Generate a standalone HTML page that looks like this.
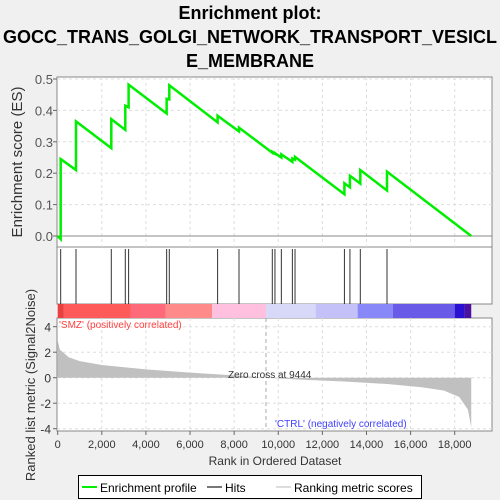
<!DOCTYPE html>
<html><head><meta charset="utf-8"><style>body{margin:0;background:#f0f0f0}svg{display:block}text{font-family:"Liberation Sans",sans-serif}</style></head>
<body>
<svg id="c" width="500" height="500" xmlns="http://www.w3.org/2000/svg">
<rect width="500" height="500" fill="#f0f0f0"/>
<g font-weight="bold" font-size="18" text-anchor="middle" fill="#000">
<text x="250" y="19">Enrichment plot:</text>
<text x="250" y="43">GOCC_TRANS_GOLGI_NETWORK_TRANSPORT_VESICL</text>
<text x="250" y="67">E_MEMBRANE</text>
</g>
<g id="g"></g>
</svg>
<script>
const hitRanks=[135,830,2430,3065,3215,4940,5060,7250,8220,9730,9850,10140,10640,10760,13000,13250,13720,14930];
const esBefore=[-0.01,0.21,0.28,0.338,0.41,0.39,0.435,0.362,0.333,0.265,0.262,0.25,0.236,0.243,0.133,0.155,0.167,0.145];
const esAfter=[0.245,0.365,0.372,0.415,0.482,0.437,0.48,0.383,0.345,0.268,0.264,0.26,0.247,0.252,0.168,0.192,0.21,0.205];
const totalN=18750;
const metricRanks=[0,100,500,1000,2000,4000,6000,8000,9444,11000,13000,15000,16500,17500,18200,18600,18750];
const metricVals=[2.9,2.2,1.6,1.3,1.0,0.65,0.4,0.18,0,-0.15,-0.3,-0.5,-0.75,-1.0,-1.5,-2.5,-3.9];
const xTicks=[0,2000,4000,6000,8000,10000,12000,14000,16000,18000];
const esTicks=[0,0.1,0.2,0.3,0.4,0.5];
const mTicks=[-4,-2,0,2,4];
const zeroCross=9444;
const barStops=[0,280,3300,4900,7000,9450,11700,13600,15200,18000,18450,18750];
const barCols=['#e84040','#ff5a5a','#ff6a7a','#ff8a8a','#ffc0e0','#d8d8f8','#c4c0f8','#8888f8','#6a5ae8','#2a10d0','#4a10a0'];

const L=57,R=492;
const X=r=>57.7+r*(397/18000);
const YE=v=>236-v*314;
const YM=v=>377.7-v*12.75;
const g=document.getElementById('g');
const NS='http://www.w3.org/2000/svg';
function mk(t,a,p){const e=document.createElementNS(NS,t);for(const k in a)e.setAttribute(k,a[k]);(p||g).appendChild(e);return e;}
let e;
e=mk('rect',{x:L,y:77,width:R-L,height:170,fill:'#fff',stroke:'#888'});


e=mk('rect',{x:L,y:247,width:R-L,height:57,fill:'#fff',stroke:'#888'});


e=mk('rect',{x:L,y:318,width:R-L,height:113,fill:'#fff',stroke:'#888'});


xTicks.forEach(t=>{
 if(t>0){mk('line',{x1:X(t),x2:X(t),y1:77,y2:247,stroke:'#ddd','stroke-dasharray':'3,3'});
 mk('line',{x1:X(t),x2:X(t),y1:318,y2:431,stroke:'#ddd','stroke-dasharray':'3,3'});}
 mk('line',{x1:X(t),x2:X(t),y1:431,y2:435,stroke:'#666'});
 e=mk('text',{x:X(t),y:448,'font-size':11,'text-anchor':'middle',fill:'#333'});e.textContent=t.toLocaleString('en-US');
 
 
});
esTicks.forEach(t=>{
 mk('line',{x1:L,x2:R,y1:YE(t),y2:YE(t),stroke:t===0?'#888':'#ddd','stroke-dasharray':t===0?'':'3,3'});
 mk('line',{x1:L-4,x2:L,y1:YE(t),y2:YE(t),stroke:'#666'});
 e=mk('text',{x:L-4,y:YE(t)+5,'font-size':13,'text-anchor':'end',fill:'#555'});e.textContent=t.toFixed(1);
 
 
});
mTicks.forEach(t=>{
 mk('line',{x1:L,x2:R,y1:YM(t),y2:YM(t),stroke:'#ddd','stroke-dasharray':'3,3'});
 mk('line',{x1:L-4,x2:L,y1:YM(t),y2:YM(t),stroke:'#666'});
 e=mk('text',{x:L-6,y:YM(t)+5,'font-size':12,'text-anchor':'end',fill:'#333'});e.textContent=t;
 
 
});
for(let i=0;i<barCols.length;i++){
 e=mk('rect',{x:X(barStops[i]),y:304,width:X(barStops[i+1])-X(barStops[i]),height:14,fill:barCols[i]});
 
 
}
let d='M'+X(0)+','+YM(0);
metricRanks.forEach((r,i)=>{d+=' L'+X(r)+','+YM(metricVals[i]);});
d+=' L'+X(totalN)+','+YM(0)+'Z';
e=mk('path',{d:d,fill:'#c0c0c0'});


mk('line',{x1:X(zeroCross),x2:X(zeroCross),y1:318,y2:431,stroke:'#aaa','stroke-dasharray':'4,3'});
e=mk('text',{x:X(zeroCross)-38,y:378,'font-size':10,fill:'#333'});e.textContent='Zero cross at '+zeroCross;


e=mk('text',{x:59,y:328,'font-size':10,fill:'#ff4040'});e.textContent="'SMZ' (positively correlated)";


e=mk('text',{x:275,y:427,'font-size':10,fill:'#4040ff'});e.textContent="'CTRL' (negatively correlated)";


hitRanks.forEach(r=>{
 e=mk('line',{x1:X(r),x2:X(r),y1:249,y2:304,stroke:'#333','stroke-width':1});
 
 
});
let pts=[[X(0),YE(0)]];
hitRanks.forEach((r,i)=>{pts.push([X(r),YE(esBefore[i])]);pts.push([X(r),YE(esAfter[i])]);});
pts.push([X(totalN),YE(0)]);
e=mk('polyline',{points:pts.map(p=>p.join(',')).join(' '),fill:'none',stroke:'#00ee00','stroke-width':2.5});


e=mk('text',{x:0,y:0,'font-size':15,'text-anchor':'middle',fill:'#333',transform:'translate(22,162) rotate(-90)'});e.textContent='Enrichment score (ES)';


e=mk('text',{x:0,y:0,'font-size':13,'text-anchor':'middle',fill:'#333',transform:'translate(35,385) rotate(-90)'});e.textContent='Ranked list metric (Signal2Noise)';


e=mk('text',{x:275,y:465,'font-size':12,'text-anchor':'middle',fill:'#333'});e.textContent='Rank in Ordered Dataset';


const lg=mk('g',{});


mk('rect',{x:78.5,y:475.5,width:343,height:23,fill:'#fff',stroke:'#000'},lg);
mk('line',{x1:82,x2:97,y1:487,y2:487,stroke:'#00ee00','stroke-width':2},lg);
e=mk('text',{x:100,y:492,'font-size':12,fill:'#000'},lg);e.textContent='Enrichment profile';


mk('line',{x1:207,x2:222,y1:487,y2:487,stroke:'#777','stroke-width':2},lg);
e=mk('text',{x:225,y:492,'font-size':12,fill:'#000'},lg);e.textContent='Hits';


mk('line',{x1:276,x2:291,y1:487,y2:487,stroke:'#ddd','stroke-width':2},lg);
e=mk('text',{x:294,y:492,'font-size':12,fill:'#000'},lg);e.textContent='Ranking metric scores';


</script>
</body></html>
